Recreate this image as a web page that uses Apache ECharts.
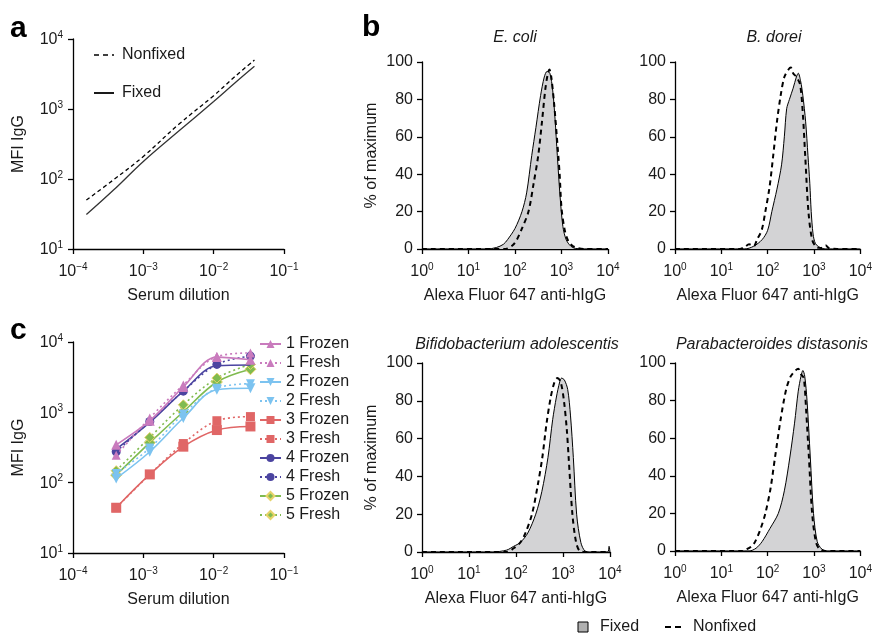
<!DOCTYPE html>
<html><head><meta charset="utf-8">
<script src="https://cdn.jsdelivr.net/npm/echarts@6/dist/echarts.min.js"></script>
<style>html,body{margin:0;padding:0;background:#fff}#c{width:875px;height:635px}</style>
</head><body><div id="c"></div>
<script>
// ---------- Panel a: fitted curves (serum dilution vs MFI IgG) ----------
const aDilution = [1.55e-4, 3.8e-4, 1e-3, 3.16e-3, 1e-2, 2e-2, 3.8e-2];
const aFixed    = [31, 70, 178, 480, 1280, 2350, 4070];
const aNonfixed = [50, 98, 210, 600, 1550, 2900, 5000];
const aLegend   = ['Nonfixed', 'Fixed'];

// ---------- Panel c: 3-fold serum dilutions ----------
const cDilution = [1/2430, 1/810, 1/270, 1/90, 1/30];
const frozen1 = [345, 760, 2300, 6100, 5600];
const fresh1  = [245, 830, 2450, 6200, 7000];
const frozen2 = [115, 275, 830, 2100, 2200];
const fresh2  = [135, 310, 950, 2200, 2550];
const frozen3 = [44, 131, 325, 560, 630];
const fresh3  = [44, 131, 360, 760, 870];
const frozen4 = [300, 720, 2000, 4600, 4700];
const fresh4  = [275, 740, 2000, 4800, 6300];
const frozen5 = [128, 370, 1020, 2700, 4100];
const fresh5  = [148, 440, 1280, 3070, 4800];
const cNames = ['1 Frozen','1 Fresh','2 Frozen','2 Fresh','3 Frozen','3 Fresh','4 Frozen','4 Fresh','5 Frozen','5 Fresh'];

// ---------- Panel b: histograms, [log10(fluorescence), % of maximum] ----------
const histTitles = ['E. coli', 'B. dorei', 'Bifidobacterium adolescentis', 'Parabacteroides distasonis'];
const ecoliFixed = [[0,0],[1.4,0],[1.6,0.8],[1.75,2.5],[1.84,5],[2.0,11],[2.15,20],[2.25,30],[2.36,50],[2.45,65],[2.55,82],[2.63,92],[2.69,95],[2.75,94],[2.81,85],[2.86,70],[2.91,50],[2.97,28],[3.03,12],[3.1,5],[3.2,1.5],[3.3,0.3],[3.5,0],[4,0]];
const ecoliNonfixed = [[0,0],[1.8,0],[1.95,2],[2.04,5],[2.15,11],[2.29,20],[2.4,35],[2.5,50],[2.58,68],[2.65,85],[2.7,93],[2.74,96],[2.78,92],[2.84,78],[2.9,60],[2.96,40],[3.0,22],[3.07,10],[3.15,4],[3.25,1.5],[3.35,0.5],[3.5,0],[4,0]];
const doreiFixed = [[0,0],[1.5,0],[1.7,1.5],[1.88,5],[2.0,10],[2.09,20],[2.2,32],[2.3,45],[2.36,60],[2.41,75],[2.47,80],[2.55,86],[2.62,92],[2.66,94],[2.71,90],[2.76,82],[2.82,68],[2.87,50],[2.91,35],[2.94,20],[2.98,8],[3.03,3],[3.12,1],[3.25,0],[4,0]];
const doreiNonfixed = [[0,0],[1.4,0],[1.5,1],[1.6,2.5],[1.7,1.5],[1.77,5],[1.87,10],[1.95,20],[2.04,33],[2.12,50],[2.2,68],[2.28,82],[2.36,92],[2.45,96],[2.5,97],[2.55,94],[2.62,92],[2.7,88],[2.76,72],[2.81,50],[2.88,20],[2.96,5],[3.05,1],[3.15,0.5],[3.25,2],[3.32,0.5],[3.5,0],[4,0]];
const bifidoFixed = [[0,0],[1.5,0],[1.8,1],[1.95,3],[2.09,5],[2.25,10],[2.42,20],[2.55,32],[2.68,50],[2.78,70],[2.86,82],[2.93,90],[2.97,92],[3.03,91],[3.1,86],[3.16,72],[3.22,50],[3.29,20],[3.38,5],[3.47,0.5],[3.6,0],[3.95,0],[3.98,3],[4,0]];
const bifidoNonfixed = [[0,0],[1.8,0],[1.95,2],[2.09,5],[2.2,10],[2.34,20],[2.46,35],[2.56,50],[2.65,68],[2.74,82],[2.82,90],[2.88,92],[2.95,90],[3.02,80],[3.08,65],[3.12,50],[3.2,20],[3.28,5],[3.36,0.5],[3.5,0],[4,0]];
const paraFixed = [[0,0],[1.6,0],[1.75,1.5],[1.88,5],[2.05,12],[2.23,20],[2.36,32],[2.48,50],[2.58,68],[2.66,85],[2.72,93],[2.76,96],[2.8,93],[2.85,80],[2.92,50],[2.99,20],[3.07,5],[3.17,1],[3.3,0],[4,0]];
const paraNonfixed = [[0,0],[1.45,0],[1.55,1],[1.65,2.5],[1.73,5],[1.85,12],[1.95,20],[2.06,33],[2.16,50],[2.28,70],[2.4,86],[2.5,93],[2.6,96],[2.66,97],[2.72,94],[2.78,92],[2.83,75],[2.89,50],[2.96,20],[3.04,5],[3.12,1],[3.25,0],[4,0]];
const histFixed = [ecoliFixed, doreiFixed, bifidoFixed, paraFixed];
const histNonfixed = [ecoliNonfixed, doreiNonfixed, bifidoNonfixed, paraNonfixed];
const histTicks = [0, 20, 40, 60, 80, 100];
const bLegend = ['Fixed', 'Nonfixed'];

// ---------- styling ----------
const F = '"Liberation Sans", Arial, Helvetica, sans-serif';
const TXT = '#1a1a1a';
const FS = 16;
const AX = {lineStyle: {color: '#000', width: 1.3}};
const TICK = {show: true, length: 5, inside: false, lineStyle: {color: '#000', width: 1.3}};
const RICH = {
  b: {fontSize: FS, fontFamily: F, color: TXT, verticalAlign: 'bottom', lineHeight: 18},
  s: {fontSize: 10, fontFamily: F, color: TXT, verticalAlign: 'top', lineHeight: 11, padding: [0, 0, 8, 0]}
};
function expLabel(v) {
  const e = Math.round(Math.log10(v));
  return '{b|10}{s|' + (e < 0 ? '\u2212' + (-e) : e) + '}';
}
function logAxis(gi, min, max, name, gap, isY) {
  return {type: 'log', logBase: 10, gridIndex: gi, min: min, max: max,
    axisLine: AX, axisTick: TICK, splitLine: {show: false}, minorTick: {show: false},
    axisLabel: {formatter: expLabel, rich: RICH, margin: isY ? 10 : 13},
    name: name, nameLocation: 'middle', nameGap: gap,
    nameTextStyle: {fontSize: FS, fontFamily: F, color: TXT}};
}
function linAxis(gi, name, gap) {
  return {type: 'value', gridIndex: gi, min: 0, max: 100, interval: 20,
    axisLine: Object.assign({show: true}, AX), axisTick: TICK, splitLine: {show: false},
    axisLabel: {fontSize: FS, fontFamily: F, color: TXT, margin: 9,
      formatter: v => histTicks.indexOf(v) >= 0 ? String(v) : ''},
    name: name, nameLocation: 'middle', nameGap: gap,
    nameTextStyle: {fontSize: FS, fontFamily: F, color: TXT}};
}

const grids = [
  {left: 73, top: 39, width: 211, height: 210},
  {left: 73, top: 342, width: 211, height: 211},
  {left: 422, top: 62, width: 186, height: 187},
  {left: 675, top: 62, width: 188, height: 187},
  {left: 422, top: 363, width: 188, height: 189},
  {left: 675, top: 363, width: 188, height: 188}
];

const xAxes = [logAxis(0, 1e-4, 1e-1, 'Serum dilution', 39), logAxis(1, 1e-4, 1e-1, 'Serum dilution', 39)];
const yAxes = [logAxis(0, 10, 1e4, 'MFI IgG', 46, true), logAxis(1, 10, 1e4, 'MFI IgG', 46, true)];
for (let i = 0; i < 4; i++) {
  xAxes.push(logAxis(2 + i, 1, 1e4, 'Alexa Fluor 647 anti-hIgG', 39));
  yAxes.push(linAxis(2 + i, i % 2 === 0 ? '% of maximum' : '', 42));
}

const series = [];
// panel a
series.push({name: aLegend[0], type: 'line', xAxisIndex: 0, yAxisIndex: 0, symbol: 'none', smooth: 0.4,
  lineStyle: {color: '#000', width: 1.3, type: [4, 3]}, itemStyle: {color: '#000'},
  data: aDilution.map((d, i) => [d, aNonfixed[i]])});
series.push({name: aLegend[1], type: 'line', xAxisIndex: 0, yAxisIndex: 0, symbol: 'none', smooth: 0.4,
  lineStyle: {color: '#333', width: 1.3}, itemStyle: {color: '#333'},
  data: aDilution.map((d, i) => [d, aFixed[i]])});

// panel c
const cVals = [frozen1, fresh1, frozen2, fresh2, frozen3, fresh3, frozen4, fresh4, frozen5, fresh5];
const cColors = ['#c97bbd', '#c97bbd', '#7cc3f0', '#7cc3f0', '#e06666', '#e06666', '#4b44a0', '#4b44a0', '#80bb50', '#80bb50'];
const cSymbols = ['triangle', 'triangle', 'triangle', 'triangle', 'rect', 'rect', 'none', 'circle', 'diamond', 'diamond'];
const cRot = [0, 0, 180, 180, 0, 0, 0, 0, 0, 0];
const cSize = [10, 9, 10, 9, 10, 9, 8, 9, 11, 10];
cNames.forEach((n, k) => {
  const dotted = k % 2 === 1;
  series.push({name: n, type: 'line', xAxisIndex: 1, yAxisIndex: 1, smooth: 0.35,
    symbol: cSymbols[k], symbolSize: cSize[k], symbolRotate: cRot[k], showSymbol: cSymbols[k] !== 'none',
    lineStyle: {color: cColors[k], width: 1.6, type: dotted ? [2, 3] : 'solid'},
    itemStyle: {color: cColors[k], borderColor: k >= 8 ? '#e6d36a' : cColors[k], borderWidth: k >= 8 ? 1 : 0},
    z: 10 - Math.floor(k / 2),
    data: cDilution.map((d, i) => [d, cVals[k][i]])});
});

// panel b histograms
for (let i = 0; i < 4; i++) {
  series.push({name: bLegend[0], type: 'line', xAxisIndex: 2 + i, yAxisIndex: 2 + i, symbol: 'none', smooth: 0.3,
    lineStyle: {color: '#000', width: 1}, itemStyle: {color: '#000'},
    areaStyle: {color: '#d3d3d5', opacity: 1},
    data: histFixed[i].map(p => [Math.pow(10, p[0]), p[1]])});
  series.push({name: bLegend[1], type: 'line', xAxisIndex: 2 + i, yAxisIndex: 2 + i, symbol: 'none', smooth: 0.3,
    lineStyle: {color: '#000', width: 2, type: [5, 4]}, itemStyle: {color: '#000'}, z: 3,
    data: histNonfixed[i].map(p => [Math.pow(10, p[0]), p[1]])});
}

const titles = [
  {text: 'a', left: 5, top: 9, textStyle: {fontSize: 30, fontWeight: 'bold', fontFamily: F, color: '#000'}},
  {text: 'b', left: 357, top: 8, textStyle: {fontSize: 30, fontWeight: 'bold', fontFamily: F, color: '#000'}},
  {text: 'c', left: 5, top: 311, textStyle: {fontSize: 30, fontWeight: 'bold', fontFamily: F, color: '#000'}}
];
const tPos = [[510, 25], [769, 25], [512, 332], [767, 332]];
histTitles.forEach((t, i) => titles.push({text: t, left: tPos[i][0], top: tPos[i][1], textAlign: 'center',
  textStyle: {fontSize: FS, fontStyle: 'italic', fontWeight: 'normal', fontFamily: F, color: TXT}}));

const chart = echarts.init(document.getElementById('c'), null, {renderer: 'canvas'});
chart.setOption({
  animation: false,
  backgroundColor: '#fff',
  title: titles,
  grid: grids,
  xAxis: xAxes,
  yAxis: yAxes,
  legend: [
    {data: cNames, orient: 'vertical', left: 254, top: 331, itemWidth: 21, itemHeight: 10, itemGap: 3,
      textStyle: {fontSize: FS, fontFamily: F, color: TXT}, selectedMode: false}
  ],
  graphic: [
    // panel a key
    {type: 'line', shape: {x1: 94, y1: 55, x2: 114, y2: 55}, style: {stroke: '#000', lineWidth: 1.5, lineDash: [5, 4]}},
    {type: 'text', x: 122, y: 55, style: {text: aLegend[0], fontSize: FS, fontFamily: F, fill: TXT, verticalAlign: 'middle'}},
    {type: 'line', shape: {x1: 94, y1: 93, x2: 114, y2: 93}, style: {stroke: '#000', lineWidth: 1.8}},
    {type: 'text', x: 122, y: 93, style: {text: aLegend[1], fontSize: FS, fontFamily: F, fill: TXT, verticalAlign: 'middle'}},
    // panel b key
    {type: 'rect', shape: {x: 578, y: 622, width: 10, height: 10}, style: {fill: '#b0b0b0', stroke: '#000', lineWidth: 1}},
    {type: 'text', x: 600, y: 627, style: {text: bLegend[0], fontSize: FS, fontFamily: F, fill: TXT, verticalAlign: 'middle'}},
    {type: 'line', shape: {x1: 665, y1: 627, x2: 684, y2: 627}, style: {stroke: '#000', lineWidth: 2, lineDash: [6, 4]}},
    {type: 'text', x: 693, y: 627, style: {text: bLegend[1], fontSize: FS, fontFamily: F, fill: TXT, verticalAlign: 'middle'}}
  ],
  series: series
});
</script></body></html>
